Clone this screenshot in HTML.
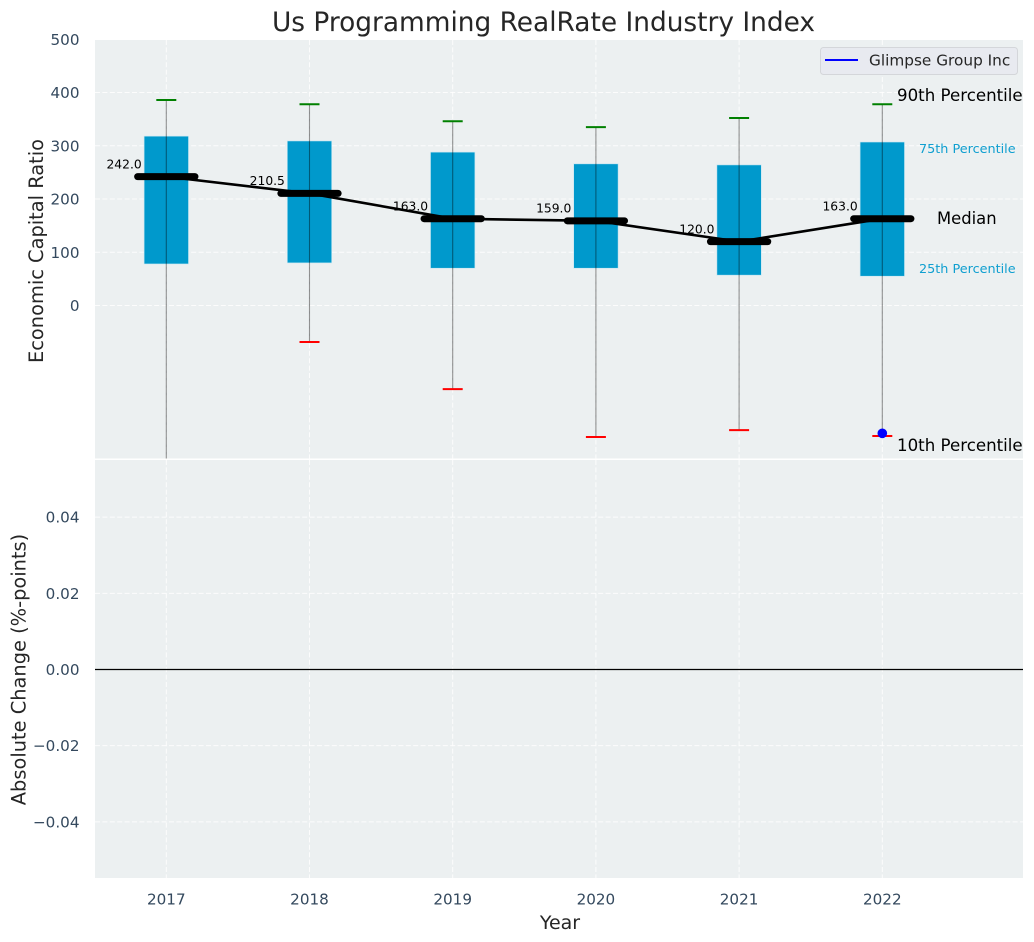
<!DOCTYPE html>
<html lang="en">
<head>
<meta charset="utf-8">
<title>Us Programming RealRate Industry Index</title>
<style>
html,body{margin:0;padding:0;background:#fff;}
svg{display:block;font-family:"DejaVu Sans","Liberation Sans",sans-serif;}
</style>
</head>
<body>
<svg id="chart" xmlns="http://www.w3.org/2000/svg" width="1034" height="942" viewBox="0 0 1034 942">
  <rect x="95" y="40" width="928" height="418.500" fill="#ecf0f1"/>
  <rect x="95" y="460" width="928" height="418" fill="#ecf0f1"/>
  <g id="grid"></g>
  <g id="marks"></g>
  <g id="ticks"></g>

  <text x="543.500" y="31" font-size="26.400" fill="#262626" text-anchor="middle">Us Programming RealRate Industry Index</text>
  <text transform="translate(43,251) rotate(-90)" font-size="19.400" fill="#262626" text-anchor="middle">Economic Capital Ratio</text>
  <text transform="translate(25.500,669.500) rotate(-90)" font-size="19.400" fill="#262626" text-anchor="middle">Absolute Change (%-points)</text>
  <text x="560" y="929" font-size="19" fill="#262626" text-anchor="middle">Year</text>

  <text x="897" y="101" font-size="16.650" fill="#000">90th Percentile</text>
  <text x="919" y="153" font-size="12.800" fill="#0f9fd0">75th Percentile</text>
  <text x="937" y="224" font-size="16.400" fill="#000">Median</text>
  <text x="919" y="273" font-size="12.800" fill="#0f9fd0">25th Percentile</text>
  <text x="897" y="451" font-size="16.650" fill="#000">10th Percentile</text>

  <g>
    <rect x="820.500" y="47.500" width="197" height="27" rx="3" ry="3" fill="#e8eaf0" stroke="#d4d6da" stroke-width="1"/>
    <line x1="825" y1="60" x2="858" y2="60" stroke="#0000ff" stroke-width="2"/>
    <text x="869" y="65.500" font-size="15.300" fill="#262626">Glimpse Group Inc</text>
  </g>
</svg>

<script>
const years = [2017, 2018, 2019, 2020, 2021, 2022];
const p90 = [386, 378, 346, 335, 352, 378];
const p75 = [318, 309, 288, 266, 264, 307];
const median = [242, 210.5, 163, 159, 120, 163];
const p25 = [78, 80, 70, 70, 57, 55];
const p10 = [-320, -68.5, -157, -247, -234, -245];
const companyYears = [2022];
const companyValues = [-240];
const upperTicks = [0, 100, 200, 300, 400, 500];
const lowerTicks = [-0.04, -0.02, 0, 0.02, 0.04];

const NS = 'http://www.w3.org/2000/svg';
const left = 95, right = 1023;
const upperTop = 40, upperBottom = 458.5;
const lowerTop = 460, lowerBottom = 878;

function x(v) { return 166.3 + (v - 2017) * 143.2; }
function xUnits(u) { return u * 143.2; }
function yUpper(v) { return 305.5 - v * 0.5325; }
function yLower(v) { return 669.5 - v * 3808; }
function clipY(py) { return Math.min(py, upperBottom); }

function make(parent, tag, attrs, text) {
  const el = document.createElementNS(NS, tag);
  Object.keys(attrs).forEach(function (k) { el.setAttribute(k, attrs[k]); });
  if (text !== undefined) el.textContent = text;
  parent.appendChild(el);
  return el;
}

const gridG = document.getElementById('grid');
const marks = document.getElementById('marks');
const ticksG = document.getElementById('ticks');
const dash = { stroke: '#ffffff', 'stroke-width': 1, 'stroke-dasharray': '5 2.4', opacity: 0.85 };

function gridLine(x1, y1, x2, y2) {
  const el = make(gridG, 'line', Object.assign({ x1: x1, y1: y1, x2: x2, y2: y2 }, dash));
  
  
}

years.forEach(function (yr) {
  gridLine(x(yr), upperTop, x(yr), upperBottom);
  gridLine(x(yr), lowerTop, x(yr), lowerBottom);
  const t = make(ticksG, 'text', { x: x(yr), y: 904.5, 'font-size': 15.2, fill: '#34495e', 'text-anchor': 'middle' }, String(yr));
  
  
});

upperTicks.forEach(function (v) {
  if (v !== 500) gridLine(left, yUpper(v), right, yUpper(v));
  const t = make(ticksG, 'text', { x: 79.5, y: yUpper(v) + 5.5, 'font-size': 15.2, fill: '#34495e', 'text-anchor': 'end' }, String(v));
  
  
});

lowerTicks.forEach(function (v) {
  if (v !== 0) gridLine(left, yLower(v), right, yLower(v));
  const label = (v < 0 ? '\u2212' : '') + Math.abs(v).toFixed(2);
  const t = make(ticksG, 'text', { x: 79.5, y: yLower(v) + 5.5, 'font-size': 15.2, fill: '#34495e', 'text-anchor': 'end' }, label);
  
  
});

const zero = make(marks, 'line', { x1: left, y1: yLower(0), x2: right, y2: yLower(0), stroke: '#000', 'stroke-width': 1.3 });



years.forEach(function (yr, i) {
  const cx = x(yr);
  const halfBox = xUnits(0.155);
  const box = make(marks, 'rect', {
    x: cx - halfBox, y: yUpper(p75[i]), width: halfBox * 2,
    height: yUpper(p25[i]) - yUpper(p75[i]), fill: '#0099cc', stroke: '#c5e6f2', 'stroke-width': 0.6
  });
  
  
});

const trend = make(marks, 'polyline', {
  points: years.map(function (yr, i) { return x(yr) + ',' + yUpper(median[i]); }).join(' '),
  fill: 'none', stroke: '#000', 'stroke-width': 2.6
});



years.forEach(function (yr, i) {
  const cx = x(yr);
  const my = yUpper(median[i]);

  const med = make(marks, 'line', {
    x1: cx - xUnits(0.2), y1: my, x2: cx + xUnits(0.2), y2: my,
    stroke: '#000', 'stroke-width': 7, 'stroke-linecap': 'round'
  });
  
  

  const whisker = make(marks, 'line', {
    x1: cx, y1: yUpper(p90[i]), x2: cx, y2: clipY(yUpper(p10[i])),
    stroke: '#000', 'stroke-opacity': 0.42, 'stroke-width': 1.1
  });
  
  

  const capTop = make(marks, 'line', {
    x1: cx - 10, y1: yUpper(p90[i]), x2: cx + 10, y2: yUpper(p90[i]), stroke: '#008000', 'stroke-width': 2
  });
  
  

  if (yUpper(p10[i]) <= upperBottom) {
    const capBottom = make(marks, 'line', {
      x1: cx - 10, y1: yUpper(p10[i]), x2: cx + 10, y2: yUpper(p10[i]), stroke: '#ff0000', 'stroke-width': 2
    });
    
    
  }

  const label = make(marks, 'text', {
    x: cx - 24.6, y: my - 8.3, 'font-size': 12.3, fill: '#000', 'text-anchor': 'end'
  }, median[i].toFixed(1));
  
  
});

companyYears.forEach(function (yr, i) {
  const dot = make(marks, 'circle', { cx: x(yr), cy: yUpper(companyValues[i]), r: 4.8, fill: '#0000ff' });
  
  
});
</script>
</body>
</html>
